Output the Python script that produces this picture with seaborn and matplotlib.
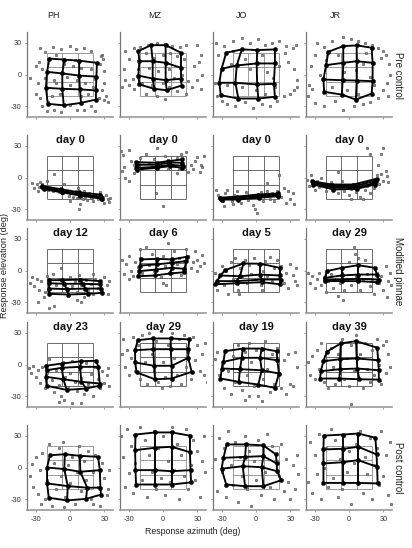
import numpy as np
import pandas as pd
import matplotlib
matplotlib.use("Agg")
import matplotlib.pyplot as plt
import seaborn as sns

# ---------------- data ----------------
subjects = ["PH", "MZ", "JO", "JR"]
row_titles = [
    ["", "", "", ""],
    ["day 0", "day 0", "day 0", "day 0"],
    ["day 12", "day 6", "day 5", "day 29"],
    ["day 23", "day 29", "day 19", "day 39"],
    ["", "", "", ""],
]
condition_labels = ["Pre control", "Modified pinnae", "Post control"]
tick_values = [-30, 0, 30]
target_edges = [-20, -6.67, 6.67, 20]

# response grids: 4x4 nodes (x rows, y rows)
gx_ph_pre = [[-18, -5, 8, 23.5], [-20, -6.7, 8, 23], [-21, -6.7, 8.7, 22.6], [-19.4, -5.5, 9.6, 22.6]]
gy_ph_pre = [[15, 14, 13, 11], [2.5, 1, -1, -2], [-12.5, -13.5, -14, -15], [-27.6, -29, -26.7, -23.6]]
gx_mz_pre = [[-21.5, -10.4, 2.3, 15.7], [-20.6, -9, 2.3, 15.7], [-21.5, -9, 2.3, 15.7], [-20.6, -7.5, 3.2, 16.2]]
gy_mz_pre = [[22, 27.6, 27.6, 20.5], [12.5, 12.5, 11, 6.3], [-1, -3.8, -5.3, -4], [-9.4, -13.5, -14.8, -10.4]]
gx_jo_pre = [[-26, -12.4, 1.1, 16.5], [-30, -16.8, 0.6, 16.5], [-32, -18, 1, 15.6], [-30.7, -15.4, 2, 16.5]]
gy_jo_pre = [[20.5, 23.6, 23, 23.6], [5.4, 8.5, 10.4, 10.4], [-7.8, -7.8, -9.4, -8.8], [-19.5, -22.6, -22.6, -21]]
gx_jr_pre = [[-18, -5, 6.7, 19.7], [-20, -5, 6.7, 20.6], [-22.3, -5.5, 6.7, 20.6], [-21.7, -6.3, 6, 19.7]]
gy_jr_pre = [[21.4, 26.7, 27.4, 25.2], [8.8, 11, 12.5, 11], [-4.7, -5.4, -5.7, -6.3], [-16.3, -18.9, -23.6, -18]]

gx_ph_d0 = [[-24, -8, 8, 26], [-24, -8, 8, 27], [-23, -7, 9, 27], [-23, -7, 9, 28]]
gy_ph_d0 = [[-8, -11, -14, -16], [-9, -12.5, -15.5, -18], [-10, -13.5, -16.5, -19], [-11, -14, -17, -20]]
gx_mz_d0 = [[-23.4, -5.5, 4.6, 17], [-23, -5, 5, 17], [-23.4, -5.5, 6, 17.5], [-23, -5, 6, 17]]
gy_mz_d0 = [[14.4, 13.9, 15.4, 17], [12, 12, 14, 14], [9, 10, 12, 11], [7.5, 9.1, 10.7, 9.1]]
gx_jo_d0 = [[-31, -16.8, 2, 19.4], [-31, -16, 3, 19], [-30.5, -16, 3, 19.5], [-30, -16, 3, 19.4]]
gy_jo_d0 = [[-19, -18, -16, -15], [-19.5, -19, -17, -16], [-20, -20, -18, -17], [-20.8, -20.8, -19, -17.6]]
gx_jr_d0 = [[-32, -15, 3.8, 24], [-31.5, -14.5, 5, 23.5], [-31, -14, 6, 23], [-31, -13.6, 6.7, 22.6]]
gy_jr_d0 = [[-3.5, -6.6, -6.6, -1.2], [-4.5, -8, -8, -3], [-5.5, -9.5, -9.5, -5], [-6.6, -11.3, -10.7, -6.6]]

gx_ph_m1 = [[-18, -7.2, 8.7, 26], [-18, -5, 11, 26.5], [-18, -3, 13.5, 27], [-18, -1.5, 16, 27.5]]
gy_ph_m1 = [[-9.1, -9.1, -8.5, -10], [-12, -12.5, -12.5, -13], [-17, -17.5, -17, -17], [-22, -22.6, -22, -21]]
gx_mz_m1 = [[-19.4, -5, 7.6, 20.6], [-20, -5.5, 7.6, 20.4], [-20.6, -6, 7.6, 18.7], [-21.5, -7, 6.1, 18.7]]
gy_mz_m1 = [[10.4, 11, 10.4, 12.9], [4.7, 5.7, 7.3, 8.8], [-0.6, 0.9, 2.5, 1.6], [-5.4, -4.7, -2.8, -1.6]]
gx_jo_m1 = [[-27, -11, 3.5, 20.9], [-31, -14, 3.5, 20.9], [-34, -17, 5, 21.5], [-35.5, -17, 5, 20.9]]
gy_jo_m1 = [[0.3, 6.6, 6.4, 2.5], [-4.7, -5.4, -3.8, -4.7], [-10, -10, -8.5, -8.5], [-13, -12, -11, -13]]
gx_jr_m1 = [[-19.4, -6.3, 8, 22.6], [-20.9, -6.3, 8, 24.2], [-20.9, -6.3, 8, 25.8], [-20.9, -6.3, 8, 24.2]]
gy_jr_m1 = [[-0.6, 2.5, 5, 2.5], [-6.9, -4.7, -3.8, -3.8], [-9.1, -8.5, -7.8, -8.5], [-10, -10, -10, -11]]

gx_ph_m2 = [[-21, -7.2, 10, 23], [-20.4, -7.2, 8.7, 24.6], [-21, -5.7, 10, 26], [-20.4, -3, 14, 25.5]]
gy_ph_m2 = [[-1.2, 0.9, 3.1, 3.5], [-5.4, -3.1, -2.2, -2.2], [-11.6, -13.9, -16.3, -17.9], [-20, -23.9, -22.6, -20]]
gx_mz_m2 = [[-22, -8.4, 6.7, 22.9], [-24.3, -8.4, 6.7, 22], [-24.3, -7.8, 7.6, 22], [-23, -7, 7.6, 25]]
gy_mz_m2 = [[22.9, 24.5, 24.5, 23.6], [13.5, 14.4, 14.4, 14.4], [1.9, -1.2, -1.2, 6.3], [-7.5, -13.9, -13.2, -6.9]]
gx_jo_m2 = [[-27, -11.6, 5, 18], [-28.4, -12.4, 3.5, 18.6], [-29.8, -14, 5, 20], [-31, -15, 2, 16.5]]
gy_jo_m2 = [[12.5, 15, 15, 12.5], [2.5, 6.3, 6.3, 4], [-3.8, -4.4, -5.4, -8.5], [-13.2, -16.3, -18.9, -22]]
gx_jr_m2 = [[-19.4, -7.2, 6.1, 24.6], [-22.3, -7.8, 6.7, 25.4], [-24.6, -7.8, 7.2, 26], [-25.2, -8.4, 9, 26]]
gy_jr_m2 = [[12, 19.8, 22, 15.8], [3.1, 5, 5.7, 4], [-6.3, -4.4, -3.8, -5.4], [-13.2, -13.2, -13.9, -14.2]]

gx_ph_post = [[-17.5, -4.5, 8.5, 24.5], [-20, -5, 9, 26], [-20, -2, 15, 26.5], [-18.5, -2.5, 14, 27]]
gy_ph_post = [[11.5, 12.5, 11, 10], [0, -1.5, -4, -2.5], [-15, -17.5, -19, -19], [-28.5, -31, -29.5, -25.5]]
gx_mz_post = [[-24, -7, 7.6, 23.5], [-24.3, -7, 7.6, 23.5], [-24, -7, 7.6, 24], [-23.5, -7, 7.6, 24.5]]
gy_mz_post = [[31, 33, 33, 30], [16.3, 18.6, 19.5, 14.4], [-2.5, -2.5, -3.5, -2.5], [-16, -16, -16, -14]]
gx_jo_post = [[-25.5, -8.7, 6.4, 17.4], [-28.4, -9.5, 6.4, 18], [-30, -11.6, 5, 18.5], [-26, -9.5, 6.4, 22]]
gy_jo_post = [[21.7, 21.7, 20.8, 12.3], [9.1, 10, 10.7, 3.8], [-1.2, 1.2, 0.3, -3.5], [-16, -17.6, -17.6, -12]]
gx_jr_post = [[-22, -5, 8, 23], [-22.3, -5, 8, 24], [-22.3, -5, 8, 24.5], [-22.3, -5, 8, 25]]
gy_jr_post = [[30, 31, 32, 28], [17, 17.6, 19.5, 12.3], [3.8, 5, 6.9, 0.6], [-14.5, -14.5, -14.5, -15]]

# individual responses (azimuth, elevation)
pts_ph_pre = [(-26,25),(-22,21),(-15,26),(-8,24),(0,27),(5,24),(12,25),(18,22),(28,18),(29,15),(27,17),(-27,12),(-30,8),(-24,5),(-12,18),(-5,10),(3,8),(10,6),(18,5),(26,10),(30,3),(-35,-3),(-28,-8),(-22,-3),(-14,-5),(-3,-2),(6,-5),(13,-8),(22,-4),(30,-8),(28,-15),(-30,-18),(-26,-22),(-16,-20),(-9,-18),(0,-10),(10,-20),(16,-18),(25,-22),(31,-20),(33,-26),(-24,-30),(-20,-34),(-14,-33),(-8,-35),(0,-29),(6,-33),(12,-33),(18,-30),(22,-34),(30,-24),(-19,-26),(-12,-8),(4,14),(20,-12)]
pts_mz_pre = [(-33,22),(-25,25),(-20,26),(-13,28),(-5,30),(2,29),(8,27),(15,26),(20,28),(30,28),(33,18),(31,12),(-30,15),(-34,5),(-33,-5),(-30,-10),(-36,-12),(-25,-14),(-22,5),(-15,20),(-8,16),(0,18),(6,20),(12,17),(18,15),(-12,6),(-4,3),(5,5),(10,-3),(17,0),(22,-6),(25,-12),(30,-5),(33,-14),(34,0),(-18,-8),(-10,-10),(0,-8),(5,-12),(12,-16),(20,-18),(-5,-20),(2,-23),(-15,-18),(27,8),(-26,-4)]
pts_jo_pre = [(-35,30),(-28,27),(-20,32),(-12,34),(-5,30),(2,33),(8,28),(14,30),(20,32),(26,27),(32,25),(35,28),(-33,18),(-38,12),(-36,-8),(-34,-20),(-30,-25),(-25,-28),(-18,-30),(-10,-26),(-3,-32),(5,-28),(12,-30),(18,-25),(24,-20),(30,-18),(33,-15),(36,-12),(-22,10),(-10,15),(-5,5),(5,18),(10,2),(15,-3),(20,8),(28,12),(33,5),(36,-5),(-25,-10),(-12,-12),(0,-15),(8,-18),(17,-12),(-20,22),(25,20)]
pts_jr_pre = [(-28,30),(-15,32),(-5,35),(2,33),(8,32),(14,30),(20,28),(25,25),(30,22),(-22,26),(-30,18),(-33,8),(-38,-2),(-35,-10),(-32,-14),(-36,-20),(-30,-27),(-22,-30),(-12,-25),(-5,-33),(4,-30),(12,-28),(18,-26),(25,-22),(30,-15),(33,-8),(36,0),(35,10),(32,18),(28,16),(-20,14),(-10,18),(-4,2),(6,4),(12,10),(18,-2),(22,-10),(-15,-12),(-2,-15),(8,-18),(-25,0),(15,20),(34,-20)]

pts_ph_d0 = [(-33,-5),(-31,-10),(-29,-6),(-27,-9),(-26,-4),(-24,-6),(-23,-11),(-21,-8),(-19,-12),(-17,-10),(-15,-13),(-14,3),(-12,-11),(-10,-14),(-8,-12),(-6,-15),(-5,-6),(-3,-13),(-1,-17),(1,-15),(3,-18),(5,-13),(6,-19),(7,-10),(8,-17),(9,-25),(10,-16),(11,-20),(13,-18),(15,-21),(17,-15),(18,-19),(20,-22),(22,-17),(24,-20),(26,-14),(27,-21),(29,-18),(30,-24),(31,-16),(33,-20),(34,-23),(35,-19),(-28,-13),(-20,-3),(0,-22),(12,-13),(8,-30)]
pts_mz_d0 = [(-37,25),(-35,21),(-30,26),(-34,10),(-33,0),(-30,-3),(-36,6),(-25,12),(-22,15),(-20,18),(-18,8),(-15,22),(-12,14),(-10,10),(-8,17),(-5,28),(-3,12),(0,15),(2,20),(4,8),(6,13),(8,16),(10,11),(12,18),(14,8),(16,14),(18,10),(20,24),(22,5),(24,12),(26,8),(28,16),(30,19),(32,5),(34,10),(36,20),(33,12),(-6,-15),(0,-27),(-25,4),(16,22),(-28,16),(12,4)]
pts_jo_d0 = [(-35,-12),(-33,-16),(-31,-20),(-29,-22),(-27,-15),(-25,-12),(-23,-19),(-21,-22),(-19,-16),(-17,-13),(-15,-20),(-13,-24),(-11,-18),(-9,-14),(-7,-21),(-5,-17),(-3,-26),(-1,-30),(1,-33),(2,-19),(4,-14),(6,-22),(8,-17),(10,-5),(12,-20),(14,-15),(16,-22),(18,-13),(20,2),(22,-18),(24,-10),(26,-24),(28,-13),(30,-20),(32,-15),(33,-25),(-20,-25),(-28,-27),(10,-13)]
pts_jr_d0 = [(-37,-2),(-35,-8),(-33,2),(-31,-5),(-30,-12),(-28,-3),(-26,-9),(-24,0),(-22,-6),(-20,-13),(-18,-8),(-16,-4),(-14,-12),(-12,-7),(-10,-15),(-8,-10),(-6,-3),(-4,-13),(-2,-9),(0,-16),(2,-11),(4,-7),(6,-14),(8,-9),(10,-18),(12,-5),(14,-12),(16,-8),(18,-15),(20,-2),(22,-10),(24,2),(26,-6),(28,3),(30,-3),(32,6),(33,1),(34,-4),(25,12),(28,22),(30,28),(18,22),(-10,5),(2,-20),(12,-20),(16,28)]

pts_ph_m1 = [(-35,-12),(-33,-6),(-31,-15),(-29,-8),(-27,-18),(-25,-10),(-23,-25),(-20,-5),(-15,-3),(-12,-14),(-10,-8),(-8,2),(-5,-12),(-2,-18),(0,-6),(2,-15),(4,-10),(6,-20),(8,-4),(10,-14),(12,-25),(14,-9),(16,-18),(18,-13),(20,-22),(22,-8),(24,-16),(26,-11),(28,-20),(30,-6),(32,-14),(33,-22),(34,-10),(-28,-30),(-18,-35),(-14,-33),(6,-28),(10,-30),(-22,-20),(20,-3)]
pts_mz_m1 = [(-38,2),(-36,10),(-34,-3),(-32,6),(-30,14),(-28,0),(-26,-5),(-24,8),(-22,3),(-20,12),(-18,-2),(-15,22),(-12,5),(-10,16),(-8,0),(-5,10),(-2,-6),(0,14),(2,4),(4,26),(6,8),(8,-2),(10,18),(12,6),(14,12),(16,-4),(18,9),(20,20),(22,14),(24,2),(26,8),(28,18),(30,10),(32,4),(34,15),(36,7),(30,0),(0,-12),(3,-14),(-20,20),(-30,-8)]
pts_jo_m1 = [(-38,-10),(-36,-2),(-34,-18),(-32,-6),(-30,4),(-28,-14),(-26,0),(-24,-22),(-22,8),(-20,-8),(-18,12),(-16,-18),(-14,2),(-12,-6),(-10,10),(-8,-12),(-6,5),(-4,-3),(-2,12),(0,-8),(2,6),(4,-14),(6,0),(8,9),(10,-5),(12,13),(14,-10),(16,2),(18,10),(20,-6),(22,4),(24,-12),(26,-2),(28,-16),(30,6),(32,-4),(34,-10),(35,2),(36,-14),(-15,-22),(5,-18)]
pts_jr_m1 = [(-38,-8),(-36,-2),(-34,-12),(-32,-5),(-30,-16),(-28,-8),(-26,-2),(-24,-14),(-22,-6),(-20,-20),(-18,-10),(-16,-3),(-14,-16),(-12,-8),(-10,-24),(-8,-12),(-6,-2),(-4,-18),(-2,-8),(0,8),(2,-14),(4,22),(6,-5),(8,12),(10,-18),(12,-9),(14,10),(16,-3),(18,-15),(20,-8),(22,-22),(24,-2),(26,-12),(28,-5),(30,-18),(32,4),(34,-10),(36,-2),(37,-14),(33,-25),(-5,-28),(5,16)]

pts_ph_m2 = [(-38,-35),(-36,-3),(-34,-8),(-32,-1),(-30,-12),(-28,-5),(-26,-17),(-24,-2),(-22,-22),(-20,-8),(-18,5),(-16,-15),(-14,-26),(-12,-5),(-10,-19),(-8,-30),(-6,2),(-4,-12),(-2,-22),(0,-8),(2,3),(4,-16),(6,-25),(8,-4),(10,-13),(12,-28),(14,1),(16,-18),(18,-9),(20,-30),(22,-2),(24,-14),(26,-22),(28,-6),(30,-17),(32,-10),(34,-20),(33,-3),(-5,-33),(2,-36),(-10,-35),(10,-36)]
pts_mz_m2 = [(-38,18),(-36,10),(-35,24),(-33,-2),(-31,14),(-30,-10),(-28,6),(-26,26),(-24,-6),(-22,18),(-20,-14),(-18,28),(-16,2),(-14,-18),(-12,30),(-10,10),(-8,-6),(-6,22),(-4,-16),(-2,32),(0,2),(2,-12),(4,18),(6,-20),(8,30),(10,6),(12,-10),(14,24),(16,-18),(18,28),(20,-2),(22,12),(24,-14),(26,26),(28,4),(30,18),(32,-6),(34,10),(36,-10),(37,20),(38,-16),(-1,-22)]
pts_jo_m2 = [(-38,-18),(-36,5),(-34,12),(-32,-10),(-30,0),(-28,-22),(-26,14),(-24,-6),(-22,-28),(-20,8),(-18,-16),(-16,18),(-14,-2),(-12,-24),(-10,12),(-8,-10),(-6,20),(-4,2),(-2,-20),(0,14),(2,-30),(4,6),(6,-14),(8,22),(10,-4),(12,-26),(14,10),(16,-18),(18,16),(20,-8),(22,-22),(24,4),(26,-28),(28,10),(30,-18),(32,-20),(34,12),(36,-2),(-10,-33),(5,-34),(-6,-30)]
pts_jr_m2 = [(-38,-6),(-36,2),(-34,-10),(-32,8),(-30,-14),(-28,14),(-26,-4),(-24,20),(-22,-16),(-20,4),(-18,-22),(-16,16),(-14,-2),(-12,-18),(-10,10),(-8,-8),(-6,24),(-4,-14),(-2,6),(0,-20),(2,18),(4,-6),(6,28),(8,-12),(10,10),(12,-22),(14,20),(16,-4),(18,-16),(20,14),(22,-10),(24,24),(26,0),(28,-18),(30,18),(32,-8),(34,10),(36,-2),(2,-37),(32,22)]

pts_ph_post = [(-35,-8),(-33,3),(-32,-18),(-30,10),(-28,-25),(-26,-2),(-24,14),(-22,-30),(-20,-12),(-18,22),(-16,-36),(-14,4),(-12,-20),(-10,18),(-8,-8),(-6,24),(-4,-28),(-2,2),(0,-15),(2,10),(4,-34),(6,-4),(8,20),(10,-22),(12,6),(14,-12),(16,16),(18,-30),(20,-4),(22,12),(24,-18),(26,-36),(28,4),(30,-10),(32,-26),(34,-2),(33,-20),(-25,-34),(20,-34),(-5,-37)]
pts_mz_post = [(-37,30),(-35,10),(-33,-18),(-31,36),(-30,-5),(-28,20),(-26,-24),(-24,4),(-20,38),(-18,-12),(-16,26),(-14,-28),(-12,12),(-10,-4),(-8,34),(-6,-20),(-4,18),(-2,-10),(0,30),(2,-26),(4,6),(6,-14),(8,38),(10,-2),(12,22),(14,-30),(16,12),(18,-8),(20,36),(22,-20),(24,2),(26,26),(28,-12),(30,16),(32,-28),(34,6),(36,30),(37,-4)]
pts_jo_post = [(-38,-10),(-36,8),(-34,-22),(-32,28),(-30,-4),(-28,18),(-26,-28),(-24,34),(-22,2),(-20,-16),(-18,24),(-16,-32),(-14,10),(-12,-8),(-10,30),(-8,-20),(-6,16),(-4,-36),(-2,6),(0,-12),(2,26),(4,-26),(6,12),(8,-4),(10,32),(12,-18),(14,20),(16,-30),(18,4),(20,-8),(22,22),(24,-22),(26,8),(28,-14),(30,-30),(32,2),(34,-20),(36,12),(37,-6)]
pts_jr_post = [(-38,6),(-36,-14),(-34,24),(-32,-24),(-30,12),(-28,-6),(-26,32),(-24,-30),(-22,0),(-20,18),(-18,-18),(-16,36),(-14,-10),(-12,26),(-10,-28),(-8,8),(-6,-20),(-4,30),(-2,-4),(0,16),(2,-34),(4,4),(6,22),(8,-14),(10,34),(12,-24),(14,10),(16,-6),(18,28),(20,-30),(22,2),(24,18),(26,-16),(28,34),(30,-8),(32,12),(34,-26),(36,24),(37,-34)]

grids_x = [
    [gx_ph_pre, gx_mz_pre, gx_jo_pre, gx_jr_pre],
    [gx_ph_d0, gx_mz_d0, gx_jo_d0, gx_jr_d0],
    [gx_ph_m1, gx_mz_m1, gx_jo_m1, gx_jr_m1],
    [gx_ph_m2, gx_mz_m2, gx_jo_m2, gx_jr_m2],
    [gx_ph_post, gx_mz_post, gx_jo_post, gx_jr_post],
]
grids_y = [
    [gy_ph_pre, gy_mz_pre, gy_jo_pre, gy_jr_pre],
    [gy_ph_d0, gy_mz_d0, gy_jo_d0, gy_jr_d0],
    [gy_ph_m1, gy_mz_m1, gy_jo_m1, gy_jr_m1],
    [gy_ph_m2, gy_mz_m2, gy_jo_m2, gy_jr_m2],
    [gy_ph_post, gy_mz_post, gy_jo_post, gy_jr_post],
]
points = [
    [pts_ph_pre, pts_mz_pre, pts_jo_pre, pts_jr_pre],
    [pts_ph_d0, pts_mz_d0, pts_jo_d0, pts_jr_d0],
    [pts_ph_m1, pts_mz_m1, pts_jo_m1, pts_jr_m1],
    [pts_ph_m2, pts_mz_m2, pts_jo_m2, pts_jr_m2],
    [pts_ph_post, pts_mz_post, pts_jo_post, pts_jr_post],
]

# ---------------- figure ----------------
sns.set_style("white")
plt.rcParams["font.family"] = ["Liberation Sans", "DejaVu Sans"]
plt.rcParams["axes.unicode_minus"] = False

W, H = 412, 548
fig = plt.figure(figsize=(W / 100, H / 100), dpi=100)

col_left = [27, 120, 213, 306]
row_top = [32, 135, 228, 322, 425]
pw, ph = 86, 85

for r in range(5):
    for c in range(4):
        ax = fig.add_axes([col_left[c] / W, 1 - (row_top[r] + ph) / H, pw / W, ph / H])
        # target grid
        tcol = "#8a8a8a" if r in (0, 4) else "#555555"
        ax.vlines(target_edges, -20, 20, color=tcol, lw=0.6, zorder=1)
        ax.hlines(target_edges, -20, 20, color=tcol, lw=0.6, zorder=1)
        # responses
        pts = pd.DataFrame(points[r][c], columns=["az", "el"])
        sns.scatterplot(data=pts, x="az", y="el", ax=ax, s=3.5, marker="o",
                        facecolor="#8a8a8a", edgecolor="#444444", linewidth=0.35,
                        zorder=2, legend=False)
        # mean response grid
        gx = np.array(grids_x[r][c])
        gy = np.array(grids_y[r][c])
        rows = []
        for i in range(4):
            for j in range(4):
                rows.append((gx[i, j], gy[i, j], f"r{i}", j))
        for j in range(4):
            for i in range(4):
                rows.append((gx[i, j], gy[i, j], f"c{j}", i))
        ldf = pd.DataFrame(rows, columns=["x", "y", "line", "k"])
        sns.lineplot(data=ldf, x="x", y="y", units="line", estimator=None, sort=False,
                     color="black", linewidth=1.35, ax=ax, zorder=3, legend=False)
        ndf = pd.DataFrame({"x": gx.ravel(), "y": gy.ravel()})
        sns.scatterplot(data=ndf, x="x", y="y", ax=ax, s=9, color="black",
                        edgecolor="black", linewidth=0.3, zorder=4, legend=False)

        ax.set_xlim(-37.5, 37.5)
        ax.set_ylim(-40, 40)
        ax.set_xticks(tick_values)
        ax.set_yticks(tick_values)
        ax.set_xlabel("")
        ax.set_ylabel("")
        for s in ["top", "right"]:
            ax.spines[s].set_visible(False)
        ax.spines["left"].set_color("#777777")
        ax.spines["left"].set_linewidth(0.9)
        ax.spines["bottom"].set_color("#999999")
        ax.spines["bottom"].set_linewidth(1.2)
        ax.tick_params(axis="both", length=1.5, width=0.5, color="#777777",
                       labelsize=5.3, labelcolor="#333333", pad=2.5, direction="out")
        ax.tick_params(axis="both", which="both", bottom=True, left=True)
        if c != 0:
            ax.set_yticklabels([])
        if r != 4:
            ax.set_xticklabels([])
        if row_titles[r][c]:
            ax.text(0.5, 1.0, row_titles[r][c], transform=ax.transAxes, ha="center",
                    va="top", fontsize=8, fontweight="bold", color="#111111", zorder=6)

# column headers
head_x = [54, 155, 242, 335]
for c, name in enumerate(subjects):
    fig.text(head_x[c] / W, 1 - 16 / H, name, ha="center", va="center",
             fontsize=6.5, color="#222222")

# condition labels (right)
cond_y = [75, 271, 468]
for lab, yy in zip(condition_labels, cond_y):
    fig.text(398 / W, 1 - yy / H, lab, rotation=-90, ha="center", va="center",
             fontsize=7, color="#222222")

fig.text(5 / W, 1 - 266 / H, "Response elevation (deg)", rotation=90,
         ha="center", va="center", fontsize=6.6, color="#222222")
fig.text(193 / W, 1 - 531 / H, "Response azimuth (deg)", ha="center",
         va="center", fontsize=6.3, color="#222222")

fig.savefig("out.png", dpi=100)
